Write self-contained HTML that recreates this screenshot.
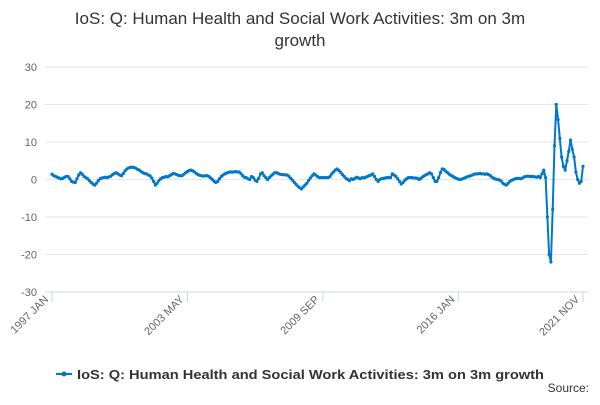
<!DOCTYPE html>
<html><head><meta charset="utf-8"><style>
body{margin:0;background:#fff;font-family:"Liberation Sans",sans-serif}
</style></head><body>
<svg width="600" height="400" xmlns="http://www.w3.org/2000/svg" font-family="Liberation Sans, sans-serif">
<text x="300" y="24" text-anchor="middle" font-size="17" fill="#333">IoS: Q: Human Health and Social Work Activities: 3m on 3m</text>
<text x="300" y="46" text-anchor="middle" font-size="17" fill="#333">growth</text>
<g id="grid"></g><g id="xaxis"></g>
<g id="series"></g>
<g>
<line x1="56" y1="374" x2="72" y2="374" stroke="#0077c8" stroke-width="2"/>
<circle cx="64" cy="374" r="2.5" fill="#0077c8"/>
<text x="77" y="379" font-size="13" font-weight="bold" fill="#333" textLength="467" lengthAdjust="spacingAndGlyphs">IoS: Q: Human Health and Social Work Activities: 3m on 3m growth</text>
</g>
<text x="589" y="392" text-anchor="end" font-size="12" fill="#333">Source:</text>
</svg>
<script>
const yTicks=[30,20,10,0,-10,-20,-30];
const xLabels=["1997 JAN","2003 MAY","2009 SEP","2016 JAN","2021 NOV"];
const xLabelIdx=[0,76,152,228,298];
const values=[1.4,1.0,0.8,0.6,0.4,0.2,0.3,0.6,0.8,0.8,
0.2,-0.5,-0.7,-0.8,0.2,1.2,1.8,1.4,0.8,0.5,
0.2,-0.3,-0.8,-1.2,-1.5,-1.0,-0.3,0.2,0.4,0.5,
0.6,0.5,0.7,0.9,1.3,1.6,1.8,1.5,1.2,1.0,
1.6,2.3,2.8,3.1,3.2,3.3,3.2,3.0,2.7,2.5,
2.1,1.8,1.6,1.5,1.2,1.0,0.4,-0.5,-1.5,-1.0,
-0.3,0.2,0.5,0.6,0.8,0.7,1.0,1.3,1.6,1.5,
1.3,1.1,1.0,1.0,1.4,1.8,2.1,2.4,2.5,2.3,
2.0,1.6,1.3,1.1,1.0,0.9,1.0,1.0,0.8,0.4,
0.0,-0.5,-0.8,-0.5,0.2,0.8,1.2,1.5,1.7,1.9,
2.0,2.0,2.0,2.1,2.0,2.0,1.6,1.0,0.6,0.5,
0.2,0.0,0.8,0.5,-0.2,-0.5,0.3,1.5,1.8,1.0,
0.5,0.0,0.5,1.0,1.4,1.8,1.8,1.6,1.4,1.3,
1.3,1.2,1.2,0.8,0.3,-0.2,-0.8,-1.3,-1.8,-2.2,
-2.5,-2.0,-1.5,-1.0,-0.3,0.4,1.0,1.5,1.2,0.8,
0.5,0.5,0.5,0.5,0.5,0.5,0.8,1.5,2.0,2.5,
2.8,2.4,1.9,1.3,0.8,0.3,0.0,-0.3,0.2,0.0,
0.3,0.6,0.4,0.2,0.5,0.4,0.6,0.8,1.0,1.2,
1.5,0.8,0.0,-0.5,0.0,0.2,0.3,0.4,0.5,0.5,
0.5,1.5,1.2,0.8,0.2,-0.5,-1.2,-0.8,-0.2,0.2,
0.5,0.5,0.5,0.4,0.4,0.3,0.0,0.3,0.7,1.0,
1.3,1.5,1.8,1.5,0.5,-0.5,-0.5,0.5,1.8,2.8,
2.7,2.2,1.8,1.4,1.1,0.8,0.5,0.3,0.1,0.0,
0.1,0.3,0.5,0.7,0.9,1.0,1.2,1.4,1.5,1.5,
1.6,1.5,1.5,1.4,1.5,1.3,1.0,0.6,0.3,0.1,
0.0,-0.1,-0.4,-1.0,-1.3,-1.5,-1.0,-0.5,-0.2,0.0,
0.2,0.3,0.3,0.2,0.4,0.7,0.8,0.9,0.8,0.8,
0.8,0.7,0.6,0.8,0.5,1.5,2.5,0.5,-10,-20,-22,-8,9,20,16,11,6,3.5,2.5,5,7.5,10.5,8,6,2,0,-1,-0.5,3.5];
const NS="http://www.w3.org/2000/svg";
const x0=52,x1=583,yTop=67,yBot=292;
const xs=i=>x0+i*(x1-x0)/(values.length-1);
const ys=v=>yBot-(v+30)*(yBot-yTop)/60;
function mk(t,a,p){const e=document.createElementNS(NS,t);for(const k in a)e.setAttribute(k,a[k]);p.appendChild(e);return e;}
const grid=document.getElementById('grid');
yTicks.forEach(v=>{
 const l=mk('line',{x1:45,x2:588,y1:ys(v),y2:ys(v),stroke:v===-30?'#ccd6eb':'#e6e6e6','stroke-width':1},grid);
 
 
 const t=mk('text',{x:37,y:ys(v)+4,'text-anchor':'end','font-size':11,fill:'#666'},grid);
 t.textContent=v;
 
 
});
const xa=document.getElementById('xaxis');
xLabels.forEach((s,k)=>{
 const x=xs(xLabelIdx[k]);
 const tk=mk('line',{x1:x,x2:x,y1:292,y2:302,stroke:'#ccd6eb'},xa);
 
 
 const tx=x-3;
 const t=mk('text',{x:tx,y:300,'text-anchor':'end','font-size':11,fill:'#666',transform:`rotate(-45 ${tx} 300)`},xa);
 t.textContent=s;
 
 
});
const sg=document.getElementById('series');
const p=mk('path',{d:values.map((v,i)=>(i?'L':'M')+xs(i).toFixed(1)+' '+ys(v).toFixed(1)).join(''),fill:'none',stroke:'#0077c8','stroke-width':2,'stroke-linejoin':'round'},sg);


values.forEach((v,i)=>{
 const c=mk('circle',{cx:xs(i),cy:ys(v),r:1.6,fill:'#0077c8'},sg);
 
 
});
</script>
</body></html>
